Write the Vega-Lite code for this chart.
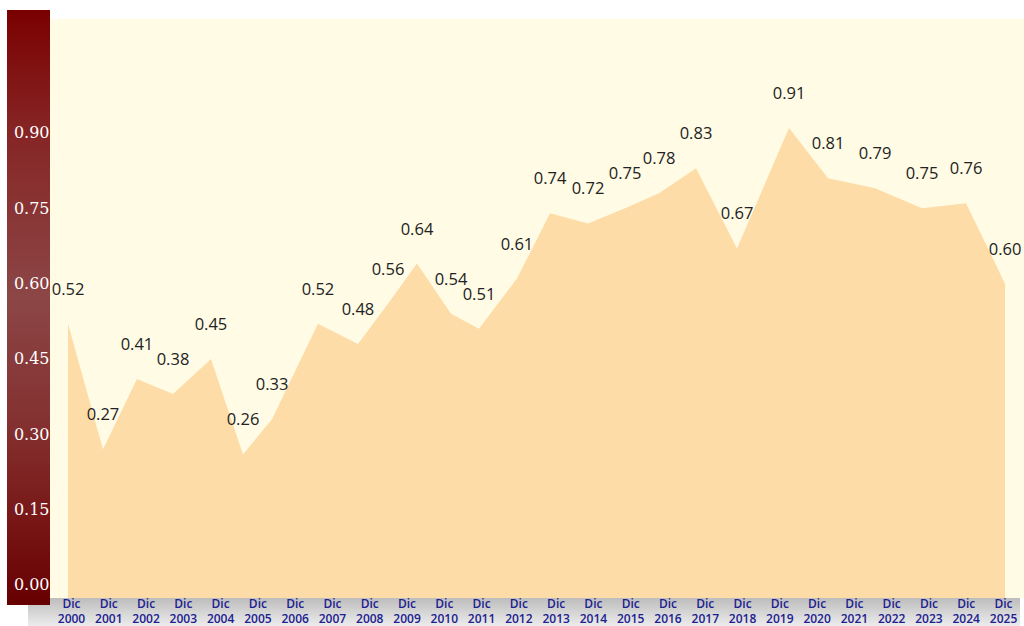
{
  "$schema": "https://vega.github.io/schema/vega-lite/v6.json",
  "autosize": "none",
  "width": 974,
  "height": 579,
  "padding": {"left": 50, "top": 19, "right": 0, "bottom": 28},
  "background": "#ffffff",
  "config": {
    "view": {"fill": "#FFFBE5", "stroke": null},
    "axis": {"labelOverlap": false, "labelBound": false, "labelFlush": false, "labelSeparation": 0}
  },
  "datasets": {
    "series": [
      {"year": 2000.835, "value": 0.52},
      {"year": 2001.773, "value": 0.27},
      {"year": 2002.685, "value": 0.41},
      {"year": 2003.651, "value": 0.38},
      {"year": 2004.670, "value": 0.45},
      {"year": 2005.529, "value": 0.26},
      {"year": 2006.307, "value": 0.33},
      {"year": 2007.540, "value": 0.52},
      {"year": 2008.613, "value": 0.48},
      {"year": 2009.418, "value": 0.56},
      {"year": 2010.196, "value": 0.64},
      {"year": 2011.108, "value": 0.54},
      {"year": 2011.859, "value": 0.51},
      {"year": 2012.878, "value": 0.61},
      {"year": 2013.764, "value": 0.74},
      {"year": 2014.783, "value": 0.72},
      {"year": 2015.776, "value": 0.75},
      {"year": 2016.688, "value": 0.78},
      {"year": 2017.680, "value": 0.83},
      {"year": 2018.780, "value": 0.67},
      {"year": 2020.175, "value": 0.91},
      {"year": 2021.221, "value": 0.81},
      {"year": 2022.482, "value": 0.79},
      {"year": 2023.742, "value": 0.75},
      {"year": 2024.923, "value": 0.76},
      {"year": 2025.969, "value": 0.60}
    ]
  },
  "data": {"name": "series"},
  "encoding": {
    "x": {
      "field": "year",
      "type": "quantitative",
      "scale": {"domain": [2000.352, 2026.478], "nice": false, "zero": false},
      "axis": {
        "title": null,
        "zindex": 1,
        "grid": false,
        "domain": false,
        "ticks": false,
        "labelOverlap": false,
        "labelFont": "Open Sans",
        "labelFontSize": 12,
        "labelFontWeight": 600,
        "labelColor": "#20208f",
        "labelLineHeight": 15,
        "labelPadding": 0,
        "labelBaseline": "top",
        "labelAlign": "center",
        "labelExpr": "['Dic', format(floor(datum.value), 'd')]",
        "values": [2000.915, 2001.915, 2002.915, 2003.915, 2004.915, 2005.915, 2006.915, 2007.915, 2008.915, 2009.915, 2010.915, 2011.915, 2012.915, 2013.915, 2014.915, 2015.915, 2016.915, 2017.915, 2018.915, 2019.915, 2020.915, 2021.915, 2022.915, 2023.915, 2024.915, 2025.915]
      }
    },
    "y": {
      "field": "value",
      "type": "quantitative",
      "scale": {"domain": [-0.026, 1.127], "nice": false, "zero": false},
      "axis": {
        "title": null,
        "zindex": 1,
        "grid": false,
        "domain": false,
        "ticks": false,
        "values": [0, 0.15, 0.3, 0.45, 0.6, 0.75, 0.9],
        "format": ".2f",
        "labelFont": "DejaVu Serif",
        "labelFontSize": 16,
        "labelColor": "#ffffff",
        "labelPadding": 1,
        "labelBaseline": "middle"
      }
    }
  },
  "layer": [
    {
      "data": {"values": [{}]},
      "mark": {
        "type": "rect",
        "fill": {"gradient": "linear", "x1": 0, "y1": 0, "x2": 0, "y2": 1,
          "stops": [
            {"offset": 0, "color": "#bdbdbd"},
            {"offset": 1, "color": "#ececec"}
          ]}
      },
      "encoding": {
        "x": {"value": -22},
        "x2": {"value": 970},
        "y": {"value": 579},
        "y2": {"value": 607}
      }
    },
    {
      "data": {"values": [{}]},
      "mark": {
        "type": "rect",
        "fill": {"gradient": "linear", "x1": 0, "y1": 0, "x2": 0, "y2": 1,
          "stops": [
            {"offset": 0, "color": "#7a0000"},
            {"offset": 0.2, "color": "#862424"},
            {"offset": 0.48, "color": "#8c4646"},
            {"offset": 0.7, "color": "#843030"},
            {"offset": 0.86, "color": "#781616"},
            {"offset": 1, "color": "#660000"}
          ]}
      },
      "encoding": {
        "x": {"value": -43},
        "x2": {"value": 0},
        "y": {"value": -9},
        "y2": {"value": 586}
      }
    },
    {
      "mark": {"type": "area", "color": "#FEDCA8", "opacity": 1},
      "encoding": {
        "y2": {"datum": -0.026}
      }
    },
    {
      "mark": {
        "type": "text",
        "font": "Open Sans",
        "fontSize": 16.5,
        "color": "#222222",
        "align": "center",
        "baseline": "middle",
        "dy": -34
      },
      "encoding": {
        "text": {"field": "value", "type": "quantitative", "format": ".2f"}
      }
    }
  ]
}
